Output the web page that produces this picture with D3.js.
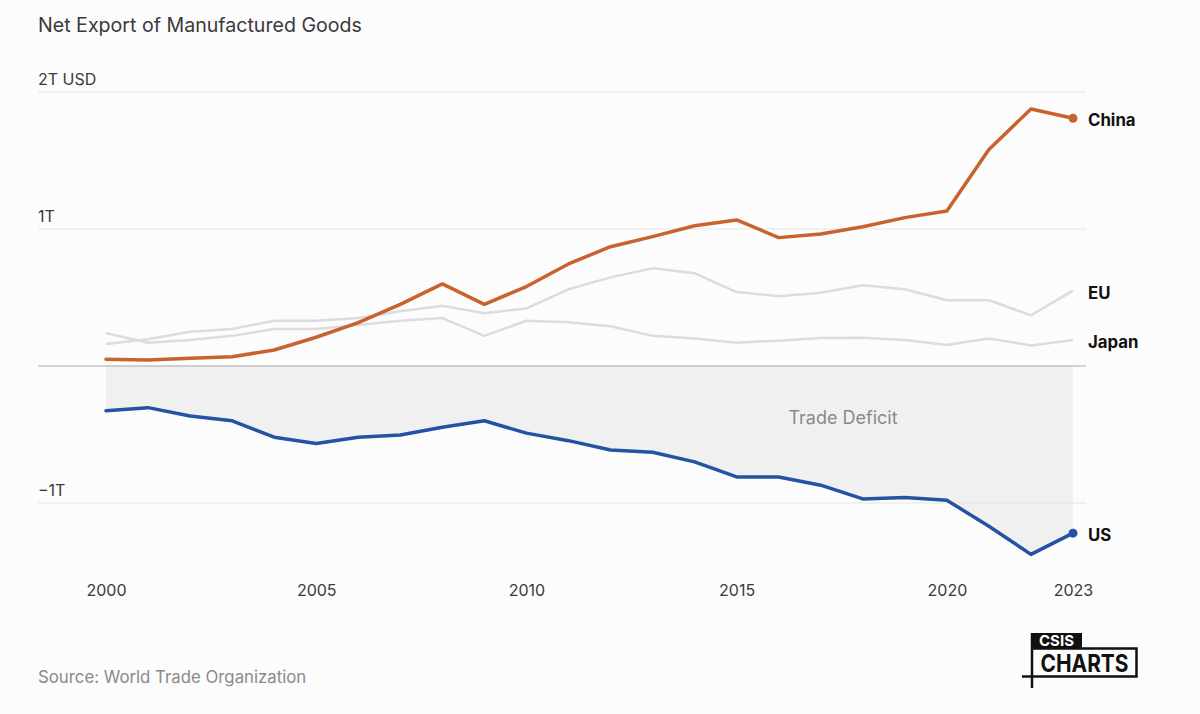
<!DOCTYPE html>
<html>
<head>
<meta charset="utf-8">
<script src="https://cdn.jsdelivr.net/npm/d3@7"></script>
<style>
  html, body { margin: 0; padding: 0; background: #fcfcfc; }
  svg { display: block; }
  text { font-family: Inter, "Noto Sans", sans-serif; }
</style>
</head>
<body>
<svg id="chart" width="1200" height="714"></svg>
<script>
const years = d3.range(2000, 2024);
const china = [0.049, 0.044, 0.056, 0.068, 0.117, 0.21, 0.316, 0.45, 0.599, 0.45, 0.58, 0.745,
               0.871, 0.944, 1.024, 1.066, 0.937, 0.964, 1.017, 1.083, 1.131, 1.58, 1.876, 1.808];
const eu = [0.16, 0.195, 0.25, 0.27, 0.33, 0.33, 0.35, 0.40, 0.44, 0.385, 0.42, 0.56,
            0.647, 0.713, 0.677, 0.54, 0.51, 0.535, 0.59, 0.56, 0.48, 0.48, 0.37, 0.55];
const japan = [0.24, 0.17, 0.19, 0.22, 0.27, 0.27, 0.30, 0.33, 0.35, 0.22, 0.33, 0.32,
               0.29, 0.22, 0.20, 0.17, 0.185, 0.204, 0.207, 0.19, 0.153, 0.20, 0.15, 0.19];
const us = [-0.326, -0.304, -0.365, -0.40, -0.52, -0.565, -0.52, -0.504, -0.447, -0.40, -0.49, -0.545,
            -0.613, -0.63, -0.70, -0.81, -0.81, -0.87, -0.97, -0.96, -0.98, -1.17, -1.375, -1.22];
const yTicks = [2, 1, -1];
const yTickLabels = ["2T USD", "1T", "\u22121T"];
const xTicks = [2000, 2005, 2010, 2015, 2020, 2023];

const svg = d3.select("#chart");
const x = d3.scaleLinear().domain([2000, 2023]).range([106, 1073]);
const y = d3.scaleLinear().domain([-1, 2]).range([503, 92]);
const gridLeft = 38, gridRight = 1086;

// title
svg.append("text").attr("x", 38).attr("y", 32)
  .attr("font-size", 19.6).attr("fill", "#3a3a3a").text("Net Export of Manufactured Goods");

// trade deficit area
const area = d3.area().x((d, i) => x(years[i])).y0(y(0)).y1(d => y(d));
svg.append("path").datum(us).attr("d", area).attr("fill", "#f0f0f0");

// gridlines
const yg = svg.append("g");
yTicks.forEach((t, i) => {
  yg.append("line").attr("x1", gridLeft).attr("x2", gridRight)
    .attr("y1", y(t)).attr("y2", y(t)).attr("stroke", "#e4e4e4").attr("stroke-width", 1);
  yg.append("text").attr("x", gridLeft).attr("y", y(t) - 7)
    .attr("font-size", 16).attr("fill", "#3a3a3a").text(yTickLabels[i]);
});
svg.append("line").attr("x1", gridLeft).attr("x2", gridRight)
  .attr("y1", y(0)).attr("y2", y(0)).attr("stroke", "#a8a8a8").attr("stroke-width", 1.2);

svg.append("text").attr("x", 843).attr("y", 424).attr("text-anchor", "middle")
  .attr("font-size", 18).attr("fill", "#8a8a8a").text("Trade Deficit");

// x axis labels
const xAxis = d3.axisBottom(x).tickValues(xTicks).tickFormat(d3.format("d")).tickSize(0).tickPadding(0);
const xg = svg.append("g").attr("transform", "translate(0,584)").call(xAxis);
xg.select(".domain").remove();
xg.selectAll("text").attr("font-family", "Inter, sans-serif").attr("font-size", 16)
  .attr("fill", "#3a3a3a").attr("dy", "0.75em");

// lines
const line = d3.line().x((d, i) => x(years[i])).y(d => y(d));
svg.append("path").datum(japan).attr("d", line).attr("fill", "none")
  .attr("stroke", "#dcdcdc").attr("stroke-width", 2.5).attr("stroke-linejoin", "round");
svg.append("path").datum(eu).attr("d", line).attr("fill", "none")
  .attr("stroke", "#dcdcdc").attr("stroke-width", 2.5).attr("stroke-linejoin", "round");
svg.append("path").datum(us).attr("d", line).attr("fill", "none")
  .attr("stroke", "#2453a3").attr("stroke-width", 3.5).attr("stroke-linejoin", "round").attr("stroke-linecap", "round");
svg.append("path").datum(china).attr("d", line).attr("fill", "none")
  .attr("stroke", "#c8632d").attr("stroke-width", 3.5).attr("stroke-linejoin", "round").attr("stroke-linecap", "round");

svg.append("circle").attr("cx", x(2023)).attr("cy", y(china[23])).attr("r", 4.5).attr("fill", "#c8632d");
svg.append("circle").attr("cx", x(2023)).attr("cy", y(us[23])).attr("r", 4.5).attr("fill", "#2453a3");

// series labels
const labels = [["China", china[23]], ["EU", eu[23]], ["Japan", japan[23]], ["US", us[23]]];
labels.forEach(([name, v]) => {
  svg.append("text").attr("x", 1088).attr("y", y(v) + 2).attr("dy", "0.35em")
    .attr("font-size", 16.8).attr("font-weight", 700).attr("fill", "#111").text(name);
});

// source
svg.append("text").attr("x", 38).attr("y", 683).attr("font-size", 16.8)
  .attr("fill", "#8a8a8a").text("Source: World Trade Organization");

// logo
const lg = svg.append("g");
lg.append("rect").attr("x", 1031).attr("y", 633).attr("width", 51).attr("height", 16).attr("fill", "#111");
lg.append("text").attr("x", 1056.5).attr("y", 646).attr("text-anchor", "middle")
  .attr("font-family", "DejaVu Sans Mono, monospace").attr("font-weight", 700)
  .attr("font-size", 15).attr("fill", "#fff").text("CSIS");
lg.append("path").attr("d", "M1032,648.5 H1136.5 V676.5 H1022")
  .attr("fill", "none").attr("stroke", "#111").attr("stroke-width", 2.5);
lg.append("line").attr("x1", 1032).attr("x2", 1032).attr("y1", 633).attr("y2", 688)
  .attr("stroke", "#111").attr("stroke-width", 2.5);
lg.append("text").attr("x", 1084.5).attr("y", 671.5).attr("text-anchor", "middle")
  .attr("font-family", "DejaVu Sans Mono, monospace").attr("font-weight", 700)
  .attr("font-size", 24).attr("fill", "#111").attr("textLength", 88).attr("lengthAdjust", "spacingAndGlyphs").text("CHARTS");
</script>
</body>
</html>
